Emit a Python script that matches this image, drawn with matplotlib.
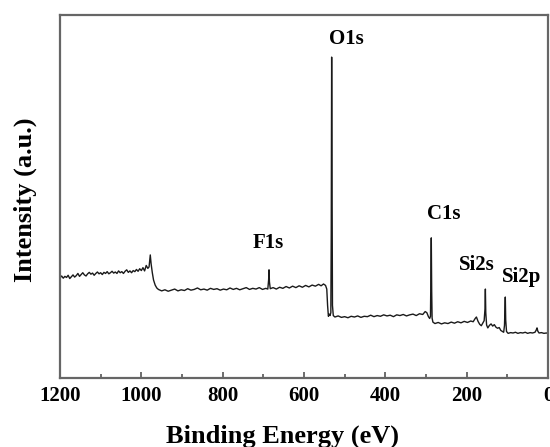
import matplotlib
matplotlib.use("Agg")
import matplotlib.ticker as ticker
from matplotlib import pyplot as plt

# XPS survey spectrum
energy_ev = [
    1200, 1196, 1192, 1188, 1184, 1180, 1176, 1172, 1168, 1164, 1160, 1156,
    1152, 1148, 1144, 1140, 1136, 1132, 1128, 1124, 1120, 1116, 1112, 1108,
    1104, 1100, 1096, 1092, 1088, 1084, 1080, 1076, 1072, 1068, 1064, 1060,
    1056, 1052, 1048, 1044, 1040, 1036, 1032, 1028, 1024, 1020, 1016, 1012,
    1008, 1004, 1000, 996, 992, 988, 984, 981, 978, 976, 973, 970, 966, 962,
    958, 950, 942, 934, 926, 918, 910, 902, 894, 886, 878, 870, 862, 854,
    846, 838, 830, 822, 814, 806, 798, 790, 782, 774, 766, 758, 750, 742,
    734, 726, 718, 710, 702, 694, 689, 687, 686, 685, 683, 676, 668, 660,
    652, 644, 636, 628, 620, 612, 604, 596, 588, 580, 572, 564, 558, 552,
    547, 544, 542, 540, 538, 536, 534, 533, 532, 531, 530, 528, 524, 516,
    508, 500, 492, 484, 476, 468, 460, 452, 444, 436, 428, 420, 412, 404,
    396, 388, 380, 372, 364, 356, 348, 340, 332, 324, 316, 308, 302, 298,
    294, 291, 289, 288, 287, 286, 285, 283, 278, 270, 262, 254, 246, 238,
    230, 222, 214, 206, 198, 190, 184, 179, 176, 172, 168, 164, 160, 157,
    155, 154, 153, 151, 148, 144, 140, 136, 132, 128, 124, 120, 116, 112,
    109, 107, 105, 104, 102, 98, 92, 86, 80, 74, 68, 62, 56, 50, 44, 38,
    32, 29, 27, 25, 22, 16, 10, 4, 0,
]
intensity = [
    27.6, 28.1, 27.5, 28.0, 27.7, 28.3, 27.4, 27.9, 28.4, 27.8, 28.2, 28.8,
    28.0, 28.5, 29.0, 28.4, 28.1, 28.7, 29.1, 28.6, 28.9, 28.3, 28.8, 29.2,
    28.7, 29.0, 28.5, 29.1, 28.8, 29.3, 28.7, 29.0, 29.4, 28.9, 29.2, 28.8,
    29.5, 29.0, 29.3, 28.8, 29.4, 29.8, 29.1, 29.5, 29.0, 29.6, 29.3, 29.9,
    29.4, 30.1, 29.6, 30.4, 29.5, 31.0, 30.2, 30.6, 33.9, 31.5, 29.0, 27.0, 25.6, 24.8,
    24.4, 24.0, 24.3, 23.9, 24.2, 24.5, 24.0, 24.3, 24.1, 24.6, 24.2, 24.4, 24.8, 24.3,
    24.5, 24.2, 24.7, 24.4, 24.6, 24.2, 24.5, 24.3, 24.8, 24.4, 24.7, 24.3, 24.6, 24.9,
    24.4, 24.7, 24.5, 24.9, 24.4, 24.7, 24.5, 27.0, 29.8, 26.5, 24.6, 24.9, 24.5, 25.0,
    24.7, 25.2, 24.8, 25.3, 24.9, 25.4, 25.0, 25.5, 25.1, 25.6, 25.3, 25.8, 25.4, 25.9,
    25.5, 24.5, 20.0, 17.0, 17.6, 17.2, 18.0, 40.0, 88.4, 50.0, 20.0, 17.2, 16.8, 17.1,
    16.7, 16.9, 16.6, 17.0, 16.8, 17.1, 16.7, 17.0, 16.9, 17.3, 16.9, 17.2, 17.0, 17.4,
    17.1, 17.3, 16.9, 17.4, 17.2, 17.5, 17.1, 17.4, 17.6, 17.2, 17.7, 17.5, 18.3, 18.0,
    16.9, 16.4, 17.0, 28.0, 38.6, 24.0, 16.5, 15.4, 15.0, 15.3, 14.9, 15.2, 15.0, 15.4,
    15.1, 15.5, 15.2, 15.6, 15.3, 15.7, 15.5, 16.4, 16.8, 15.6, 14.8, 14.4, 15.2, 15.8,
    19.0, 24.5, 18.0, 14.6, 13.8, 14.5, 14.9, 14.3, 14.7, 14.0, 13.7, 13.9, 13.1, 12.8,
    12.6, 14.5, 22.3, 16.0, 12.8, 12.3, 12.5, 12.4, 12.6, 12.3, 12.5, 12.4, 12.6, 12.3, 12.5, 12.4,
    12.6, 13.2, 13.8, 12.9, 12.4, 12.5, 12.3, 12.4, 12.3,
]

peak_names = ["O1s", "F1s", "C1s", "Si2s", "Si2p"]
# where each peak name sits (energy, intensity)
name_x = [495, 688, 257, 176, 64]
name_y = [93.4, 37.2, 45.2, 31.1, 27.8]

plt.rcParams["font.family"] = ["Liberation Serif", "DejaVu Serif"]
plt.rcParams["font.weight"] = "bold"

fig = plt.figure(figsize=(5.5, 4.47), dpi=100)
ax = fig.add_axes([60 / 550, 69 / 447, 488 / 550, 363 / 447])

ax.plot(energy_ev, intensity, color="#1a1a1a", lw=1.0)

for name, x, y in zip(peak_names, name_x, name_y):
    ax.text(x, y, name, ha="center", va="center", fontsize=15, fontweight="bold")

ax.set_xlim(1200, 0)
ax.set_ylim(0, 100)
ax.xaxis.set_major_locator(ticker.MultipleLocator(200))
ax.xaxis.set_minor_locator(ticker.MultipleLocator(100))
ax.tick_params(axis="x", which="major", direction="in", length=4, width=1.2,
               colors="#555555", labelcolor="black", labelsize=15, pad=6)
ax.tick_params(axis="x", which="minor", direction="in", length=3, width=1.2,
               colors="#555555")
ax.set_yticks([])
for spine in ax.spines.values():
    spine.set_color("#666666")
    spine.set_linewidth(1.6)

fig.text(282 / 550, 1 - 436 / 447, "Binding Energy (eV)", ha="center",
         va="center", fontsize=19, fontweight="bold")
fig.text(25 / 550, 1 - 200 / 447, "Intensity (a.u.)", ha="center",
         va="center", rotation=90, fontsize=19, fontweight="bold")

fig.savefig("out.png", dpi=100)
